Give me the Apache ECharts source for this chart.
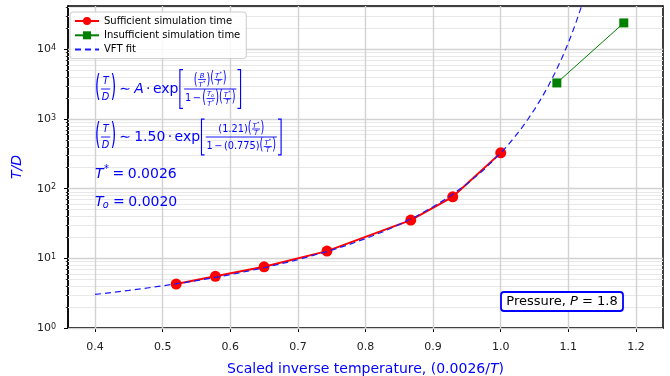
<!DOCTYPE html>
<html>
<head>
<meta charset="utf-8">
<script src="https://cdn.jsdelivr.net/npm/echarts@6/dist/echarts.min.js"></script>
<style>
  html, body { margin: 0; padding: 0; background: #ffffff; }
  #chart { width: 670px; height: 376px; }
</style>
</head>
<body>
<div id="chart"></div>
<script>
// Runs with long enough simulation time: scaled inverse temperature and T/D
const sufficientX = [0.520, 0.578, 0.650, 0.743, 0.867, 0.929, 1.000];
const sufficientTD = [4.28, 5.52, 7.57, 12.7, 35.4, 76.5, 327];

// Runs that were too short to equilibrate
const insufficientX = [1.083, 1.182];
const insufficientTD = [3300, 24000];

// VFT fit curve
const vftX = [0.40, 0.45, 0.50, 0.55, 0.60, 0.65, 0.70, 0.75, 0.775, 0.80, 0.825, 0.85, 0.875,
              0.90, 0.925, 0.95, 0.975, 1.00, 1.01, 1.02, 1.03, 1.04, 1.05, 1.06, 1.07, 1.08,
              1.09, 1.10, 1.11, 1.12, 1.14];
const vftTD = [3.03, 3.46, 4.03, 4.78, 5.83, 7.32, 9.55, 13.1, 15.7, 19.2, 23.9, 30.6, 40.2,
               54.9, 78.1, 117, 187, 325, 416, 543, 722, 985, 1380, 1980, 2940, 4550,
               7330, 12400, 22400, 43200, 208000];

// Axis ticks
const xTicks = [0.4, 0.5, 0.6, 0.7, 0.8, 0.9, 1.0, 1.1, 1.2];
const yMajorTicks = [1, 10, 100, 1000, 10000];
const yMinorTicks = [2, 3, 4, 5, 6, 7, 8, 9,
                     20, 30, 40, 50, 60, 70, 80, 90,
                     200, 300, 400, 500, 600, 700, 800, 900,
                     2000, 3000, 4000, 5000, 6000, 7000, 8000, 9000,
                     20000, 30000, 40000];

const FONT = '"DejaVu Sans", sans-serif';
const BLUE = '#0000ff';

// ---------- a tiny math layout helper for the annotation formulas ----------
const measureCtx = document.createElement('canvas').getContext('2d');
function textWidth(str, size, italic) {
  measureCtx.font = (italic ? 'italic ' : '') + size + 'px "DejaVu Sans"';
  return measureCtx.measureText(str).width;
}
const shrink = s => Math.max(s * 0.7, 6.5);

function textEl(str, x, y, s, italic, scaleY) {
  return {
    type: 'text', x: x, y: y, scaleY: scaleY || 1, silent: true, z: 50,
    style: {
      text: str, fontSize: s, fontFamily: FONT, fontStyle: italic ? 'italic' : 'normal',
      fill: BLUE, align: 'left', verticalAlign: 'middle'
    }
  };
}
function sym(str, italic) {
  return s => ({
    w: textWidth(str, s, italic), a: s * 0.45, d: s * 0.3,
    draw(x, y, out) { out.push(textEl(str, x, y, s, italic)); }
  });
}
function space(em) {
  return s => ({ w: em * s, a: 0, d: 0, draw() {} });
}
function row(...parts) {
  return s => {
    const ls = parts.map(p => p(s));
    return {
      w: ls.reduce((t, l) => t + l.w, 0),
      a: Math.max(...ls.map(l => l.a)),
      d: Math.max(...ls.map(l => l.d)),
      draw(x, y, out) { let cx = x; ls.forEach(l => { l.draw(cx, y, out); cx += l.w; }); }
    };
  };
}
function frac(num, den, gapEm) {
  return s => {
    const k = shrink(s), n = num(k), d = den(k);
    const gap = s * (gapEm || 0.12), pad = s * 0.1;
    const w = Math.max(n.w, d.w) + 2 * pad;
    return {
      w: w, a: gap + n.a + n.d, d: gap + d.a + d.d,
      draw(x, y, out) {
        out.push({
          type: 'line', silent: true, z: 50,
          shape: { x1: x + pad * 0.4, y1: y, x2: x + w - pad * 0.4, y2: y },
          style: { stroke: BLUE, lineWidth: Math.max(0.8, s * 0.065) }
        });
        n.draw(x + (w - n.w) / 2, y - gap - n.d, out);
        d.draw(x + (w - d.w) / 2, y + gap + d.a, out);
      }
    };
  };
}
function sup(base, str) {
  return s => {
    const b = base(s), sp = sym(str, false)(s * 0.7), rise = s * 0.36;
    return {
      w: b.w + sp.w + s * 0.04, a: Math.max(b.a, rise + sp.a), d: b.d,
      draw(x, y, out) { b.draw(x, y, out); sp.draw(x + b.w + s * 0.04, y - rise, out); }
    };
  };
}
function sub(base, str) {
  return s => {
    const b = base(s), sp = sym(str, true)(s * 0.7), drop = s * 0.28;
    return {
      w: b.w + sp.w, a: b.a, d: Math.max(b.d, drop + sp.d),
      draw(x, y, out) { b.draw(x, y, out); sp.draw(x + b.w - s * 0.05, y + drop, out); }
    };
  };
}
// parentheses sized to their content
function paren(body, extraEm) {
  return s => {
    const b = body(s);
    const h = b.a + b.d + s * (extraEm || 0.1);
    const sy = Math.max(1, h / (s * 0.9));
    const ow = textWidth('(', s, false), cw = textWidth(')', s, false);
    const mid = (b.d - b.a) / 2;
    return {
      w: ow + b.w + cw, a: Math.max(b.a, h / 2 - mid), d: Math.max(b.d, h / 2 + mid),
      draw(x, y, out) {
        const py = y + mid - s * 0.04 * sy;
        out.push(textEl('(', x, py, s, false, sy));
        b.draw(x + ow, y, out);
        out.push(textEl(')', x + ow + b.w, py, s, false, sy));
      }
    };
  };
}
// square brackets sized to their content
function bracket(body) {
  return s => {
    const b = body(s);
    const top = b.a + s * 0.12, bot = b.d + s * 0.12;
    const bw = s * 0.36, arm = s * 0.22, lw = Math.max(1, s * 0.08);
    const line = pts => ({
      type: 'polyline', silent: true, z: 50, shape: { points: pts },
      style: { stroke: BLUE, lineWidth: lw, fill: null }
    });
    return {
      w: bw + b.w + bw, a: top, d: bot,
      draw(x, y, out) {
        const xl = x + s * 0.1, xr = x + bw + b.w + bw - s * 0.1;
        out.push(line([[xl + arm, y - top], [xl, y - top], [xl, y + bot], [xl + arm, y + bot]]));
        b.draw(x + bw, y, out);
        out.push(line([[xr - arm, y - top], [xr, y - top], [xr, y + bot], [xr - arm, y + bot]]));
      }
    };
  };
}
const it = str => sym(str, true);
const rm = str => sym(str, false);
const Tstar = sup(it('T'), '*');
const TD = paren(frac(it('T'), it('D'), 0.3), 0.25);
const TstarOverT = paren(frac(Tstar, it('T'), 0.1));

function place(builder, size, x, y) {
  const out = [];
  builder(size).draw(x, y, out);
  return out;
}

// (T/D) ~ A exp[ (B/T*)(T*/T) / (1 - (To/T*)(T*/T)) ]
const formulaGeneral = row(
  TD, space(0.22), rm('∼'), space(0.22), it('A'), space(0.17), rm('·'), space(0.17), rm('exp'),
  bracket(frac(
    row(paren(frac(it('B'), Tstar, 0.1)), TstarOverT),
    row(rm('1'), space(0.15), rm('−'), space(0.15), paren(frac(sub(it('T'), 'o'), Tstar, 0.1)), TstarOverT),
    0.1
  ))
);
// (T/D) ~ 1.50 exp[ (1.21)(T*/T) / (1 - (0.775)(T*/T)) ]
const formulaFit = row(
  TD, space(0.22), rm('∼'), space(0.22), rm('1.50'), space(0.17), rm('·'), space(0.17), rm('exp'),
  bracket(frac(
    row(rm('(1.21)'), TstarOverT),
    row(rm('1'), space(0.15), rm('−'), space(0.15), rm('(0.775)'), TstarOverT),
    0.1
  ))
);
const formulaTstar = row(Tstar, space(0.25), rm('='), space(0.25), rm('0.0026'));
const formulaTo = row(sub(it('T'), 'o'), space(0.25), rm('='), space(0.25), rm('0.0020'));

const annotationElements = [].concat(
  place(formulaGeneral, 14, 95, 89),
  place(formulaFit, 14, 95, 137),
  place(formulaTstar, 14, 95, 174),
  place(formulaTo, 14, 95, 202),
  [
    {
      type: 'rect', silent: true, z: 50,
      shape: { x: 501, y: 292, width: 122, height: 19, r: 3 },
      style: { fill: '#ffffff', stroke: BLUE, lineWidth: 1.8 }
    },
    {
      type: 'text', silent: true, z: 51, x: 562, y: 301.5,
      style: {
        text: 'Pressure, {i|P} = 1.8', fontSize: 13, fontFamily: FONT, fill: '#000000',
        align: 'center', verticalAlign: 'middle',
        rich: { i: { fontSize: 13, fontFamily: FONT, fontStyle: 'italic', fill: '#000000' } }
      }
    }
  ]
);

// ---------- grid lines (major on x and y, minor on y) ----------
const gridLines = [].concat(
  yMinorTicks.map(v => ({ yAxis: v, lineStyle: { color: '#e8e8e8', width: 1, type: 'solid' } })),
  yMajorTicks.map(v => ({ yAxis: v, lineStyle: { color: '#d2d2d2', width: 1.4, type: 'solid' } })),
  xTicks.map(v => ({ xAxis: v, lineStyle: { color: '#d2d2d2', width: 1.4, type: 'solid' } }))
);

const zip = (xs, ys) => xs.map((x, i) => [x, ys[i]]);

const chart = echarts.init(document.getElementById('chart'), null, { renderer: 'canvas' });
chart.setOption({
  animation: false,
  backgroundColor: '#ffffff',
  textStyle: { fontFamily: FONT },
  grid: {
    left: 68, right: 7, top: 6, bottom: 48,
    containLabel: false, outerBoundsMode: 'none',
    show: true, borderColor: '#000000', borderWidth: 1.5, backgroundColor: 'transparent'
  },
  legend: {
    left: 70, top: 12, orient: 'vertical',
    itemWidth: 24, itemHeight: 10, itemGap: 4.3,
    padding: [4, 6, 4, 4],
    backgroundColor: 'rgba(255,255,255,0.85)',
    borderColor: '#cccccc', borderWidth: 1, borderRadius: 3,
    textStyle: { fontFamily: FONT, fontSize: 10, color: '#000000' },
    data: [
      'Sufficient simulation time',
      'Insufficient simulation time',
      { name: 'VFT fit', itemStyle: { opacity: 0 } }
    ]
  },
  xAxis: {
    type: 'value', min: 0.36, max: 1.24,
    name: 'Scaled inverse temperature, (0.0026/{i|T})',
    nameLocation: 'middle', nameGap: 34,
    nameTextStyle: {
      color: BLUE, fontSize: 14, fontFamily: FONT,
      rich: { i: { color: BLUE, fontSize: 14, fontFamily: FONT, fontStyle: 'italic' } }
    },
    axisLine: { show: true, onZero: false, lineStyle: { color: '#000000', width: 1.5 } },
    axisTick: { show: true, length: 4, customValues: xTicks, lineStyle: { color: '#000000', width: 1 } },
    axisLabel: {
      customValues: xTicks, margin: 14, color: '#222222', fontSize: 11, fontFamily: FONT,
      formatter: v => v.toFixed(1)
    },
    splitLine: { show: false }
  },
  yAxis: [
    {
      type: 'log', logBase: 10, min: 1, max: 42000,
      name: 'T/D', nameLocation: 'middle', nameGap: 44,
      nameTextStyle: { color: BLUE, fontSize: 14, fontFamily: FONT, fontStyle: 'italic' },
      axisLine: { show: true, lineStyle: { color: '#000000', width: 1.5 } },
      axisTick: { show: true, length: 4, customValues: yMajorTicks, lineStyle: { color: '#000000', width: 1 } },
      axisLabel: {
        customValues: yMajorTicks, margin: 12, color: '#222222', fontSize: 11, fontFamily: FONT,
        formatter: v => '10{s|' + Math.round(Math.log10(v)) + '}',
        rich: { s: { fontSize: 8, fontFamily: FONT, color: '#222222', verticalAlign: 'top' } }
      },
      splitLine: { show: false }
    },
    {
      type: 'log', logBase: 10, min: 1, max: 42000, position: 'left',
      axisLine: { show: false },
      axisTick: { show: true, length: 2.2, customValues: yMinorTicks, lineStyle: { color: '#000000', width: 0.8 } },
      axisLabel: { show: false },
      splitLine: { show: false }
    }
  ],
  graphic: { elements: annotationElements },
  series: [
    {
      name: 'grid', type: 'line', data: [], silent: true, z: 1,
      markLine: {
        silent: true, z: 1, symbol: ['none', 'none'], label: { show: false },
        emphasis: { disabled: true }, animation: false,
        data: gridLines
      }
    },
    {
      name: 'Sufficient simulation time', type: 'line', z: 3,
      data: zip(sufficientX, sufficientTD),
      symbol: 'circle', symbolSize: 11, showSymbol: true,
      itemStyle: { color: '#ff0000' },
      lineStyle: { color: '#ff0000', width: 2 }
    },
    {
      name: 'Insufficient simulation time', type: 'line', z: 3,
      data: zip(insufficientX, insufficientTD),
      symbol: 'rect', symbolSize: 9, showSymbol: true,
      itemStyle: { color: '#008000' },
      lineStyle: { color: '#008000', width: 1 }
    },
    {
      name: 'VFT fit', type: 'line', z: 4,
      data: zip(vftX, vftTD),
      symbol: 'none', showSymbol: false,
      itemStyle: { color: '#1a1aff' },
      lineStyle: { color: '#1a1aff', width: 1.2, type: [6, 4] }
    }
  ]
});
</script>
</body>
</html>
